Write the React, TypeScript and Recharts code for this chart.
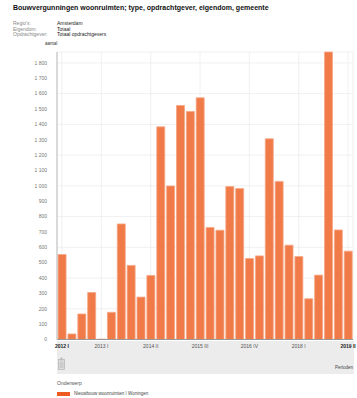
import type { JSX } from 'react';
import { BarChart, Bar, XAxis, YAxis, CartesianGrid } from 'recharts';

const periods: string[] = [
    '2012 I', '2012 II', '2012 III', '2012 IV',
    '2013 I', '2013 II', '2013 III', '2013 IV',
    '2014 I', '2014 II', '2014 III', '2014 IV',
    '2015 I', '2015 II', '2015 III', '2015 IV',
    '2016 I', '2016 II', '2016 III', '2016 IV',
    '2017 I', '2017 II', '2017 III', '2017 IV',
    '2018 I', '2018 II', '2018 III', '2018 IV',
    '2019 I', '2019 II',
];

const woningen: number[] = [
    553, 36, 166, 306,
    3, 177, 752, 482,
    276, 417, 1384, 999,
    1523, 1484, 1573, 729,
    711, 995, 982, 527,
    544, 1306, 1029, 614,
    540, 265, 419, 1871,
    713, 575,
];

const xTicks: string[] = ['2012 I', '2013 I', '2014 II', '2015 III', '2016 IV', '2018 I', '2019 II'];
const yTicks: number[] = [0, 100, 200, 300, 400, 500, 600, 700, 800, 900, 1000, 1100, 1200, 1300, 1400, 1500, 1600, 1700, 1800];

const meta: [string, string][] = [
    ['Regio\'s:', 'Amsterdam'],
    ['Eigendom:', 'Totaal'],
    ['Opdrachtgever:', 'Totaal opdrachtgevers'],
];

const data = periods.map((p, i) => ({ period: p, value: woningen[i] }));

const fmt = (v: number): string => (v >= 1000 ? `${Math.floor(v / 1000)} ${String(v % 1000).padStart(3, '0')}` : String(v));

const PeriodTick = ({ x, y, payload }: any): JSX.Element => {
    const edge = payload.value === xTicks[0] || payload.value === xTicks[xTicks.length - 1];
    return (
        <text x={x} y={y + 6.5} textAnchor="middle" fontSize={5} fill={edge ? '#222' : '#555'} fontWeight={edge ? 'bold' : 'normal'}>
            {payload.value}
        </text>
    );
};

export default function App (): JSX.Element {
    return (
        <div style={{ position: 'absolute', left: 0, top: 0, width: 357, height: 398, background: '#fff', fontFamily: '"Liberation Sans", Arial, sans-serif' }}>
            <div style={{ position: 'absolute', left: 13, top: 4, fontSize: 7, fontWeight: 'bold', color: '#111', whiteSpace: 'nowrap' }}>
                Bouwvergunningen woonruimten; type, opdrachtgever, eigendom, gemeente
            </div>
            {meta.map(([k, v], i) => (
                <div key={k} style={{ position: 'absolute', left: 13, top: 20 + i * 5.6, fontSize: 5, lineHeight: '6px', whiteSpace: 'nowrap' }}>
                    <span style={{ color: '#888' }}>{k}</span>
                    <span style={{ position: 'absolute', left: 44, color: '#222' }}>{v}</span>
                </div>
            ))}
            <div style={{ position: 'absolute', left: 45, top: 41, fontSize: 4.5, color: '#333' }}>aantal</div>

            <div style={{ position: 'absolute', left: 57, top: 341, width: 297, height: 33, background: '#ececec' }} />
            <svg style={{ position: 'absolute', left: 58, top: 357 }} width={8} height={14}>
                <rect x={0.5} y={2.5} width={6} height={10} fill="#ddd" stroke="#aaa" strokeWidth={0.6} />
                <rect x={2.5} y={0.5} width={2} height={3} fill="#bbb" />
                <line x1={1.5} y1={6} x2={5.5} y2={6} stroke="#999" strokeWidth={0.5} />
                <line x1={1.5} y1={8} x2={5.5} y2={8} stroke="#999" strokeWidth={0.5} />
                <line x1={1.5} y1={10} x2={5.5} y2={10} stroke="#999" strokeWidth={0.5} />
            </svg>
            <div style={{ position: 'absolute', left: 320, top: 365, width: 33, textAlign: 'right', fontSize: 4.5, color: '#444' }}>Perioden</div>

            <div style={{ position: 'absolute', left: 0, top: 0 }}>
                <BarChart width={357} height={352} data={data} margin={{ top: 52, right: 4, bottom: 0, left: 0 }} barCategoryGap="11%">
                    <CartesianGrid stroke="#ececec" strokeWidth={0.8} />
                    <XAxis dataKey="period" ticks={xTicks} interval={0} height={12.5} tickLine={false} tickSize={0} axisLine={{ stroke: '#999' }} tick={PeriodTick} />
                    <YAxis domain={[0, 'dataMax']} ticks={yTicks} width={57} tickLine={false} axisLine={{ stroke: '#bbb' }} tickFormatter={fmt} tick={{ fontSize: 5, fill: '#777' }} tickMargin={4} />
                    <Bar dataKey="value" fill="#f07b48" stroke="#f6a786" strokeWidth={0.8} isAnimationActive={false} />
                </BarChart>
            </div>

            <div style={{ position: 'absolute', left: 57, top: 380, fontSize: 5, color: '#555' }}>Onderwerp</div>
            <div style={{ position: 'absolute', left: 57, top: 392, width: 13, height: 4, background: '#ee5a22' }} />
            <div style={{ position: 'absolute', left: 74, top: 391, fontSize: 4.5, color: '#444', whiteSpace: 'nowrap' }}>Nieuwbouw woonruimten \ Woningen</div>
        </div>
    );
}
